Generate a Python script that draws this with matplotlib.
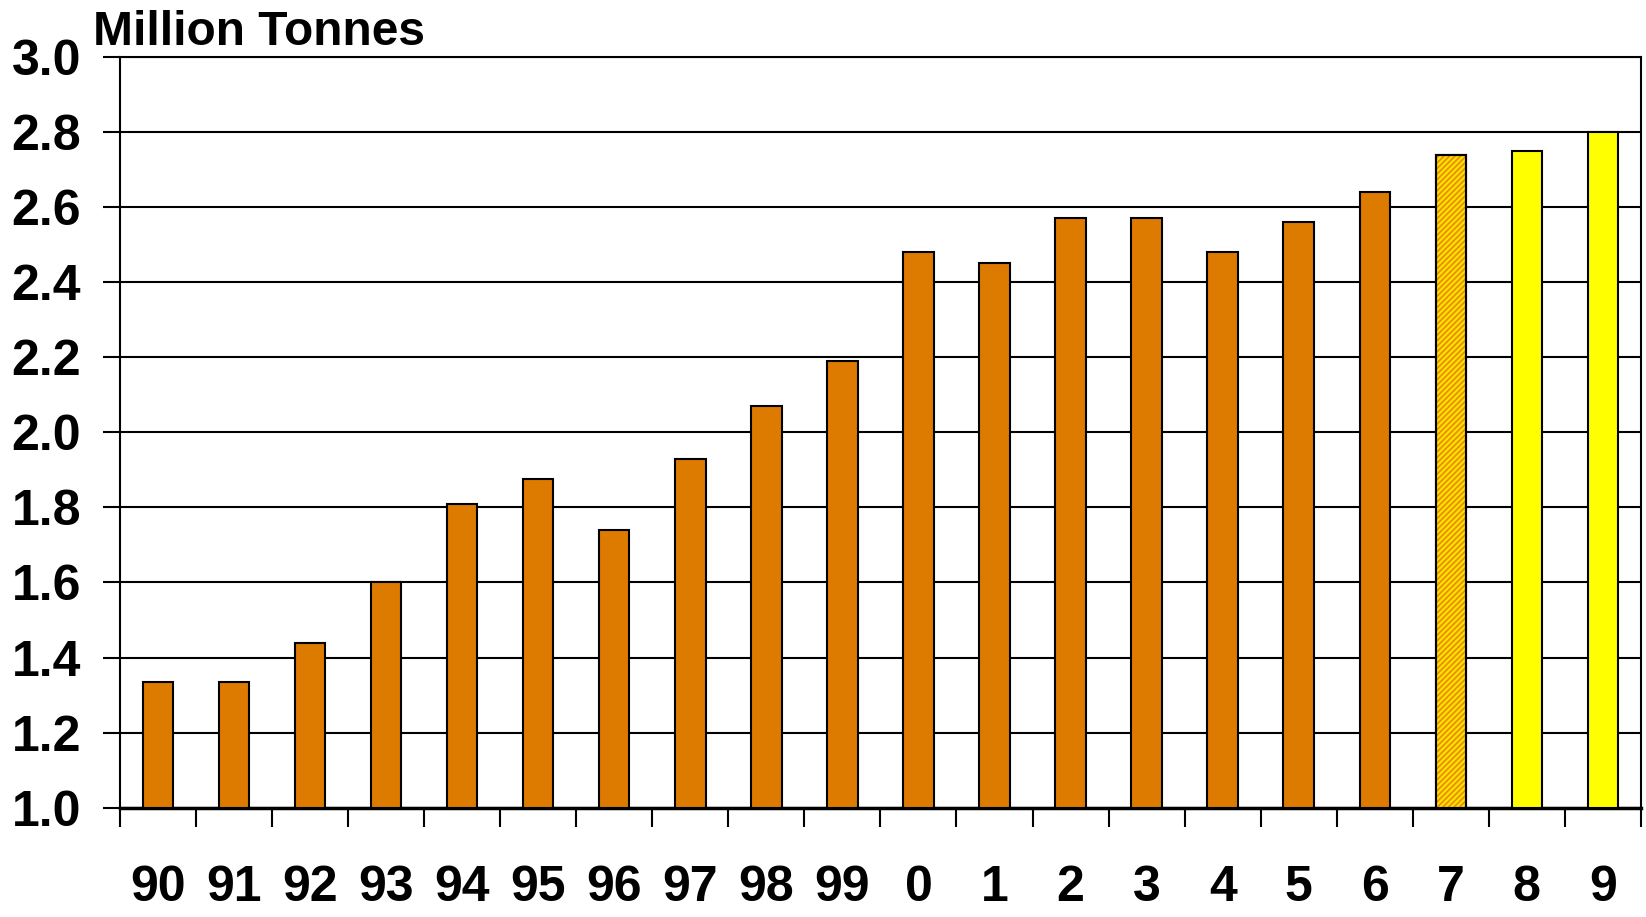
import matplotlib.pyplot as plt
import numpy as np

years = ['90', '91', '92', '93', '94', '95', '96', '97', '98', '99',
         '0', '1', '2', '3', '4', '5', '6', '7', '8', '9']
tonnes = [1.335, 1.335, 1.44, 1.60, 1.81, 1.875, 1.74, 1.93, 2.07, 2.19,
          2.48, 2.45, 2.57, 2.57, 2.48, 2.56, 2.64, 2.74, 2.75, 2.80]
# 0 = actual, 1 = estimate (hatched), 2 = forecast
kind = [0] * 17 + [1, 2, 2]

yticks = [1.0, 1.2, 1.4, 1.6, 1.8, 2.0, 2.2, 2.4, 2.6, 2.8, 3.0]

font = ['Liberation Sans', 'DejaVu Sans']

fig = plt.figure(figsize=(16.46, 9.17), dpi=100)
ax = fig.add_axes([0.0729, 0.1192, 0.924, 0.8186])

x = np.arange(len(years))
base = 1.0
heights = [v - base for v in tonnes]
fills = {0: '#DD7A00', 1: '#FFE000', 2: '#FFFF00'}
for xi, h, k in zip(x, heights, kind):
    ax.bar(xi, h, bottom=base, width=0.4, color=fills[k], edgecolor='black', linewidth=1.5, zorder=3)
    if k == 1:
        # fine orange diagonal hatch over the yellow fill, outline redrawn on top
        plt.rcParams['hatch.linewidth'] = 1.2
        ax.bar(xi, h, bottom=base, width=0.4, color='none', edgecolor='#E88A00', linewidth=0,
               hatch='//////', zorder=4)
        ax.bar(xi, h, bottom=base, width=0.4, color='none', edgecolor='black', linewidth=1.5, zorder=5)

ax.set_xlim(-0.5, len(years) - 0.5)
ax.set_ylim(1.0, 3.0)

ax.set_yticks(yticks)
ax.set_yticklabels([f'{t:.1f}' for t in yticks], fontsize=36, fontweight='bold', family=font)
ax.yaxis.grid(True, color='black', linewidth=1.5, zorder=0)
ax.tick_params(axis='y', direction='out', length=12, width=1.5, pad=16)

ax.set_xticks(x)
ax.set_xticklabels(years, fontsize=36, fontweight='bold', family=font)
ax.set_xticks(np.arange(-0.5, len(years)), minor=True)
ax.tick_params(axis='x', which='major', length=0, pad=41)
ax.tick_params(axis='x', which='minor', direction='out', length=14, width=1.5)

for side in ['left', 'right', 'top']:
    ax.spines[side].set_linewidth(1.5)
ax.spines['bottom'].set_linewidth(2.5)

fig.text(0.0565, 0.951, 'Million Tonnes', fontsize=34.5, fontweight='bold',
         family=font, va='baseline', ha='left')

fig.savefig('out.png', dpi=100)
